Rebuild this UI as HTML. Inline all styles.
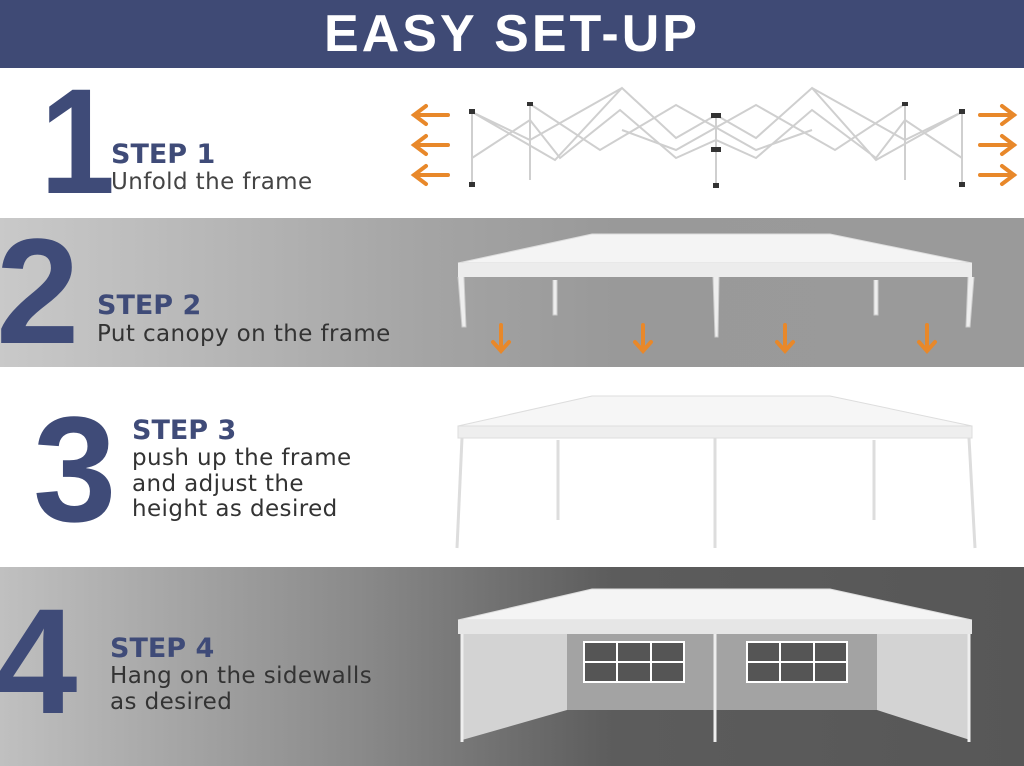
<!DOCTYPE html>
<html><head><meta charset="utf-8"><style>
body{margin:0;width:1024px;height:766px;overflow:hidden;font-family:"DejaVu Sans",sans-serif;position:relative;background:#fff}
.s{position:absolute;left:0;width:1024px}
.num{position:absolute;font-weight:bold;color:#3f4b78;font-family:"Liberation Sans",sans-serif}
.t{position:absolute;color:#3f4b78;font-weight:bold;font-size:27px;font-family:"DejaVu Sans",sans-serif}
.d{position:absolute;font-size:23px;line-height:25.5px;letter-spacing:0.4px;font-family:"DejaVu Sans",sans-serif}
</style></head><body>
<div class="s" style="top:0;height:68px;background:#3f4a75;color:#fff;font-weight:bold;font-size:52px;text-align:center;line-height:68px;letter-spacing:3px;font-family:'Liberation Sans',sans-serif">EASY SET-UP</div>
<div class="s" style="top:218px;height:149px;background:linear-gradient(90deg,#c9c9c9 0%,#a4a4a4 42%,#999 60%,#9a9a9a 100%)"></div>
<div class="s" style="top:567px;height:199px;background:linear-gradient(90deg,#c0c0c0 0%,#8a8a8a 35%,#5c5c5c 60%,#575757 100%)"></div>

<div class="num" style="left:40px;top:66px;font-size:150px;line-height:150px;transform:scaleX(0.9);transform-origin:left top">1</div>
<div class="t" style="left:111px;top:139px">STEP 1</div>
<div class="d" style="left:111px;top:170px;color:#444">Unfold the frame</div>

<div class="num" style="left:-4px;top:216px;font-size:150px;line-height:150px">2</div>
<div class="t" style="left:97px;top:290px">STEP 2</div>
<div class="d" style="left:97px;top:322px;color:#333">Put canopy on the frame</div>

<div class="num" style="left:33px;top:394px;font-size:150px;line-height:150px">3</div>
<div class="t" style="left:132px;top:415px">STEP 3</div>
<div class="d" style="left:132px;top:446px;color:#333">push up the frame<br>and adjust the<br>height as desired</div>

<div class="num" style="left:-6px;top:586px;font-size:150px;line-height:150px">4</div>
<div class="t" style="left:110px;top:633px">STEP 4</div>
<div class="d" style="left:110px;top:664px;color:#333">Hang on the sidewalls<br>as desired</div>

<svg width="1024" height="766" style="position:absolute;left:0;top:0">
<g stroke="#e8882a" stroke-width="4" fill="none" stroke-linecap="round">
<path d="M448 115H414M426 106l-12 9 12 9M448 145H414M426 136l-12 9 12 9M448 175H414M426 166l-12 9 12 9"/>
<path d="M980 115h34M1002 106l12 9-12 9M980 145h34M1002 136l12 9-12 9M980 175h34M1002 166l12 9-12 9"/>
<path d="M501 325v25M493 342l8 9 8-9M643 325v25M635 342l8 9 8-9M785 325v25M777 342l8 9 8-9M927 325v25M919 342l8 9 8-9"/>
</g>
<g stroke="#cfcfcf" stroke-width="2" fill="none">
<path d="M472 112V185M530 104V180M716 115V185M905 104V180M962 112V185"/>
<path d="M472 112L555 160 622 88 676 138 716 115 756 138 812 88 876 160 962 112M472 112L530 140 622 88M962 112L905 140 812 88M530 104L600 150 676 105 756 150 812 130M905 104L835 150 756 105 676 150 622 130M472 158L530 120 560 158 620 110 676 158 716 140 756 158 812 110 876 158 905 120 962 158"/>
</g>
<g fill="#333"><rect x="469" y="109" width="6" height="5"/><rect x="959" y="109" width="6" height="5"/><rect x="711" y="113" width="10" height="5"/><rect x="711" y="147" width="10" height="5"/><rect x="469" y="182" width="6" height="5"/><rect x="959" y="182" width="6" height="5"/><rect x="713" y="183" width="6" height="5"/><rect x="527" y="102" width="6" height="4"/><rect x="902" y="102" width="6" height="4"/></g>
<g>
<path d="M592 234H830L972 263H458Z" fill="#f4f4f4" stroke="#ddd"/>
<rect x="458" y="263" width="514" height="14" fill="#ececec"/>
<path d="M458 277l4 50h4l-2-50M968 277l-2 50h4l4-50M713 277l2 60h3l1-60M553 280v35h4v-35M874 280v35h4v-35" fill="#eee" stroke="#ccc"/>
</g>
<g>
<path d="M592 396H830L972 426H458Z" fill="#f6f6f6" stroke="#ddd"/>
<rect x="458" y="426" width="514" height="12" fill="#eee" stroke="#ddd"/>
<path d="M462 438L457 548M969 438L975 548M715 438V548M558 440V520M874 440V520" stroke="#ddd" stroke-width="3"/>
</g>
<g>
<path d="M592 589H830L972 620H458Z" fill="#f4f4f4" stroke="#ddd"/>
<rect x="458" y="620" width="514" height="14" fill="#e6e6e6"/>
<path d="M462 634L567 634 567 710 462 740Z" fill="#d3d3d3"/>
<path d="M968 634L877 634 877 710 970 740Z" fill="#d3d3d3"/>
<rect x="567" y="634" width="310" height="76" fill="#a3a3a3"/>
<path d="M715 634V742M462 634V742M969 634V742" stroke="#eee" stroke-width="3"/>
<g fill="#555" stroke="#fff" stroke-width="2">
<rect x="584" y="642" width="100" height="40"/><rect x="747" y="642" width="100" height="40"/>
</g>
<path d="M617 642v40M651 642v40M584 662h100M780 642v40M814 642v40M747 662h100" stroke="#fff" stroke-width="2"/>
</g>
</svg>
</body></html>
